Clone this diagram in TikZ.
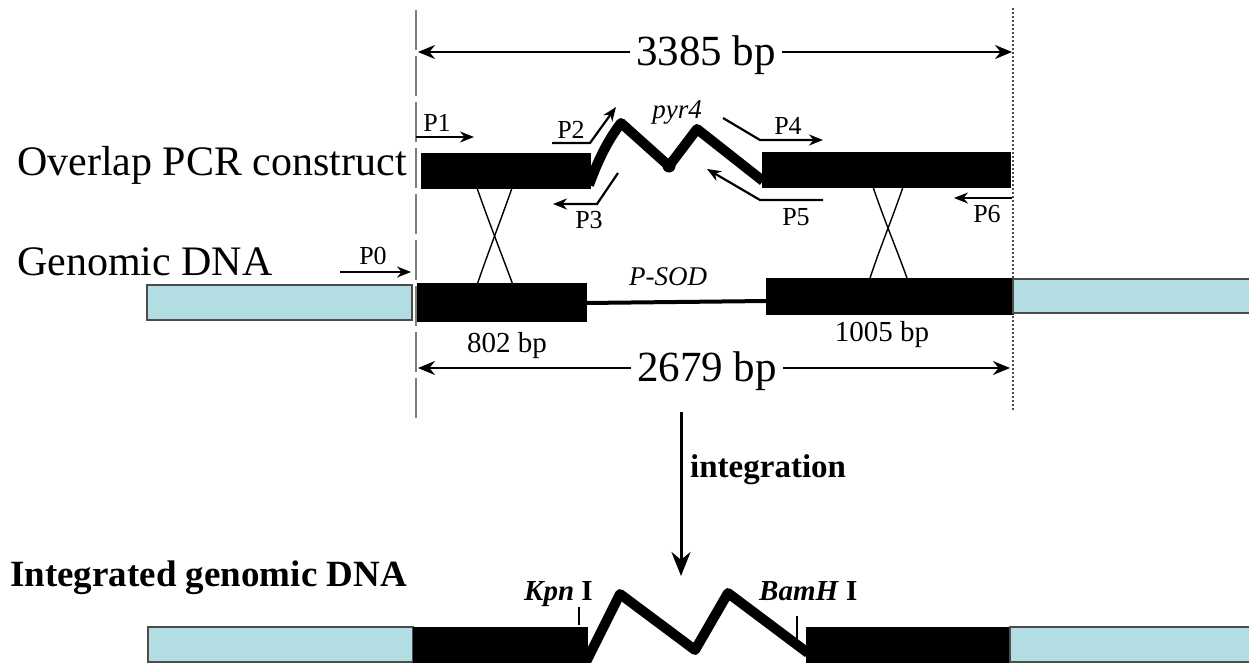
\documentclass[tikz,border=0pt]{standalone}
\usepackage{fontspec}
\setmainfont{Liberation Serif}
\usetikzlibrary{arrows.meta}
\definecolor{dnablue}{RGB}{178,221,226}
\definecolor{guide}{RGB}{125,125,125}
\begin{document}
\begin{tikzpicture}[x=1pt,y=-1pt,
  blackbar/.style={fill=black,draw=black,line width=1pt},
  bluebar/.style={fill=dnablue,draw=black!70,line width=1.6pt},
  primer/.style={line width=2.2pt,line join=miter,-{Stealth[length=14pt,width=11pt]}},
  dimarrow/.style={line width=2pt,-{Stealth[length=17pt,width=14pt]}},
  gene/.style={line width=10pt,line join=round,line cap=butt},
  cross/.style={line width=1.4pt},
  biglbl/.style={font=\fontsize{42}{44}\selectfont,inner sep=0pt,anchor=base west},
  dimlbl/.style={font=\fontsize{43}{46}\selectfont,fill=white,inner xsep=6pt,inner ysep=0pt},
  plbl/.style={font=\fontsize{26}{28}\selectfont,inner sep=0pt,anchor=base},
  bplbl/.style={font=\fontsize{29}{30}\selectfont,inner sep=0pt,anchor=base},
  itlbl/.style={font=\itshape\fontsize{27}{28}\selectfont,inner sep=0pt,anchor=base},
  sitelbl/.style={font=\bfseries\fontsize{29}{30}\selectfont,inner sep=0pt,anchor=base west},
  guideline/.style={guide,line width=1.6pt,dash pattern=on 40pt off 6pt},
  dotline/.style={black!70,line width=1.4pt,dash pattern=on 2pt off 2pt},
  tick/.style={line width=1.4pt}
]
\useasboundingbox (0,0) rectangle (1249,662);

% guide lines
\coordinate (gl1) at (416,10);
\coordinate (gl2) at (416,420);
\coordinate (gr1) at (1013,8);
\coordinate (gr2) at (1013,410);
\draw[guideline] (gl1) -- (gl2);
\draw[dotline] (gr1) -- (gr2);

% 3385 bp dimension
\node[dimlbl] (d3385) at (706,55) {3385 bp};
\coordinate (d3385l) at (418,52);
\coordinate (d3385r) at (1012,52);
\draw[dimarrow] (d3385.west |- d3385l) -- (d3385l);
\draw[dimarrow] (d3385.east |- d3385r) -- (d3385r);

% left labels
\node[biglbl] (lblpcr) at (17,175) {Overlap PCR construct};
\node[biglbl] (lblgen) at (17,275) {Genomic DNA};
\node[biglbl,font=\bfseries\fontsize{37}{40}\selectfont] (lblint) at (10,586) {Integrated genomic DNA};

% overlap PCR construct
\path[blackbar] (421,153) rectangle (590,188);
\path[blackbar] (762,152) rectangle (1010,187);
\draw[gene] (589,185) .. controls (598,160) and (608,140) .. (621,123) -- (669,166) -- (697,129) -- (763,181);
\fill (669,166) circle (6.5pt);

% primers
\coordinate (p1a) at (416,137); \coordinate (p1b) at (474,137);
\draw[primer] (p1a) -- (p1b);
\node[plbl] (P1) at (437,131) {P1};

\coordinate (p2a) at (552,143); \coordinate (p2k) at (590,143); \coordinate (p2b) at (616,107);
\draw[primer] (p2a) -- (p2k) -- (p2b);
\node[plbl] (P2) at (571,138) {P2};

\coordinate (p3a) at (618,173); \coordinate (p3k) at (597,204); \coordinate (p3b) at (553,204);
\draw[primer] (p3a) -- (p3k) -- (p3b);
\node[plbl] (P3) at (589,228) {P3};

\coordinate (p4a) at (723,118); \coordinate (p4k) at (760,140); \coordinate (p4b) at (823,140);
\draw[primer] (p4a) -- (p4k) -- (p4b);
\node[plbl] (P4) at (788,134) {P4};

\coordinate (p5a) at (823,200); \coordinate (p5k) at (760,200); \coordinate (p5b) at (707,169);
\draw[primer] (p5a) -- (p5k) -- (p5b);
\node[plbl] (P5) at (796,225) {P5};

\coordinate (p6a) at (1012,198); \coordinate (p6b) at (954,198);
\draw[primer] (p6a) -- (p6b);
\node[plbl] (P6) at (987,222) {P6};

\coordinate (p0a) at (340,272); \coordinate (p0b) at (411,272);
\draw[primer] (p0a) -- (p0b);
\node[plbl] (P0) at (373,264) {P0};

\node[itlbl] (pyr) at (677,118) {pyr4};

% crossovers
\draw[cross] (477,188) .. controls (490,225) and (500,250) .. (513,285);
\draw[cross] (512,188) .. controls (499,225) and (489,250) .. (477,285);
\draw[cross] (873,187) .. controls (885,222) and (895,245) .. (907,278);
\draw[cross] (903,187) .. controls (891,222) and (881,245) .. (870,278);

% genomic DNA
\path[bluebar] (147,285) rectangle (412,320);
\path[blackbar] (417,283) rectangle (586,321);
\draw[line width=4pt] (585,303) -- (767,301);
\path[blackbar] (766,278) rectangle (1013,314);
\path[bluebar] (1013,279) rectangle (1252,313);
\node[itlbl] (psod) at (668,285) {P-SOD};
\node[bplbl] (bp802) at (507,352) {802 bp};
\node[bplbl] (bp1005) at (882,341) {1005 bp};

% 2679 bp dimension
\node[dimlbl] (d2679) at (707,371) {2679 bp};
\coordinate (d2679l) at (418,368);
\coordinate (d2679r) at (1010,368);
\draw[dimarrow] (d2679.west |- d2679l) -- (d2679l);
\draw[dimarrow] (d2679.east |- d2679r) -- (d2679r);

% integration arrow
\coordinate (ia) at (681,412);
\coordinate (ib) at (681,576);
\draw[line width=3pt,-{Stealth[length=24pt,width=19pt]}] (ia) -- (ib);
\node[anchor=base west,inner sep=0pt,font=\bfseries\fontsize{33}{35}\selectfont] (integ) at (690,477) {integration};

% integrated genomic DNA
\path[bluebar] (148,627) rectangle (413,662);
\path[blackbar] (413,627) rectangle (587,664);
\draw[gene] (586,662) -- (620,594) -- (695,650) -- (728,593) -- (808,653);
\path[blackbar] (806,627) rectangle (1010,664);
\path[bluebar] (1010,627) rectangle (1252,662);
\coordinate (kt1) at (579,607); \coordinate (kt2) at (579,625);
\draw[tick] (kt1) -- (kt2);
\coordinate (bt1) at (797,616); \coordinate (bt2) at (797,640);
\draw[tick] (bt1) -- (bt2);
\node[sitelbl] (kpn) at (524,600) {\textit{Kpn} I};
\node[sitelbl] (bam) at (759,600) {\textit{BamH} I};
\end{tikzpicture}
\end{document}
